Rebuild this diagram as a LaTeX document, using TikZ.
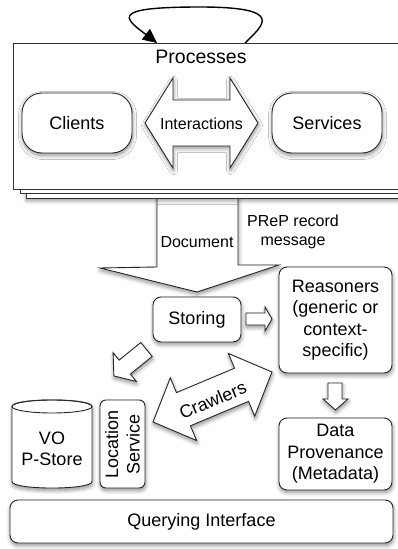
\documentclass[tikz,border=0pt]{standalone}
\usepackage{fontspec}
\setmainfont{Liberation Sans}
\usetikzlibrary{shadows.blur,arrows.meta}

\tikzset{
  softshadow/.style={blur shadow={shadow xshift=0.5pt,shadow yshift=-2.5pt,
      shadow blur radius=4pt,shadow blur steps=8,shadow opacity=45}},
  outline/.style={draw=black!85,line width=0.9pt,fill=white,softshadow},
  box/.style={outline,rounded corners=8pt,align=center,inner sep=0pt,
      font=\fontsize{18}{21.5}\selectfont},
  pill/.style={box,rounded corners=20pt},
  page/.style={draw=black!80,line width=0.9pt,fill=white},
  blockarrow/.style={outline,line join=miter},
  bigtext/.style={font=\fontsize{18}{21.5}\selectfont,inner sep=0pt,align=center},
  smalltext/.style={font=\fontsize{16}{19}\selectfont,inner sep=0pt,align=center},
  loopline/.style={draw=black,line width=1.4pt},
  loophead/.style={fill=black,draw=black,line width=0.6pt,line join=miter},
}

\begin{document}
\begin{tikzpicture}[x=1pt,y=-1pt]
\useasboundingbox (0,0) rectangle (397,549);

% big "Document" arrow leaving the process stack
\draw[blockarrow] (157,185) -- (157,267) -- (100,268) -- (197,292) -- (279,265)
  -- (238,265) -- (238,185) -- cycle;
\node[smalltext] (document) at (197,242) {Document};
\node[smalltext] (prep) at (293,232) {PReP record\\message};

% stack of process sheets (running off the right edge)
\draw[page,softshadow] (26,53) rectangle (412,198);
\draw[page] (20,48) rectangle (408,193.5);
\node[page,minimum width=391pt,minimum height=146pt,inner sep=0pt,anchor=north west]
  (processes) at (13,43) {};
\node[font=\fontsize{19.5}{22}\selectfont,inner sep=0pt] (proclabel) at (201,57) {Processes};

% clients / interactions / services
\node[pill,minimum width=110pt,minimum height=60pt] (clients) at (77,123) {Clients};
\node[pill,minimum width=110pt,minimum height=60pt] (services) at (327,123) {Services};
\draw[blockarrow] (145,123) -- (173,78) -- (173,100) -- (230,100) -- (230,78) -- (258,123)
  -- (230,168) -- (230,146) -- (173,146) -- (173,168) -- cycle;
\node[smalltext] (interactions) at (201.5,124) {Interactions};

% self loop on the process stack, with a solid head at its end
\coordinate (loopstart) at (245,43);
\coordinate (loopbase) at (146,34.5);
\coordinate (loopend) at (156.5,42.5);
\draw[loopline] (loopstart)
  .. controls (262,26) and (288,7) .. (200,7)
  .. controls (112,7) and (122,17) .. (loopbase);
\draw[loophead] (loopend) -- (142.3,39.4) -- (149.9,29.4) -- cycle;

% storing and reasoning
\node[box,minimum width=88pt,minimum height=45pt] (storing) at (197,319.5) {Storing};
\node[box,minimum width=113pt,minimum height=106pt] (reasoners) at (335.5,320)
  {Reasoners\\(generic or\\context-\\specific)};
\node[box,minimum width=113pt,minimum height=72pt] (provenance) at (335.5,454)
  {Data\\Provenance\\(Metadata)};

% storing -> reasoners
\draw[blockarrow] (246,313) -- (265,313) -- (265,307) -- (272,319) -- (265,331)
  -- (265,325) -- (246,325) -- cycle;
% reasoners -> provenance
\draw[blockarrow] (328,383) -- (342,383) -- (342,399) -- (348,399) -- (335.5,410)
  -- (323,399) -- (328,399) -- cycle;

% storing -> store
\begin{scope}[shift={(146.5,349.5)},rotate=219]
  \draw[blockarrow] (0,-9) -- (28,-9) -- (28,-18.5) -- (42,0) -- (28,18.5)
    -- (28,9) -- (0,9) -- cycle;
\end{scope}

% crawlers
\begin{scope}[shift={(212.5,397)},rotate=22.8]
  \draw[blockarrow] (-64.5,0) -- (-31.5,-34) -- (-31.5,-18) -- (31.5,-18) -- (31.5,-34)
    -- (64.5,0) -- (31.5,34) -- (31.5,18) -- (-31.5,18) -- (-31.5,34) -- cycle;
  \node[bigtext,transform shape] (crawlers) at (-1,3) {Crawlers};
\end{scope}

% provenance store cylinder
\draw[outline] (12,406.5) -- (12,481.5) .. controls (12,490.2) and (92,490.2) .. (92,481.5)
  -- (92,406.5) .. controls (92,397.8) and (12,397.8) .. (12,406.5) -- cycle;
\draw[draw=black!85,line width=0.9pt] (52,406.5) ellipse [x radius=40pt,y radius=6.5pt];
\node[bigtext] (pstore) at (52,449) {VO\\P-Store};

\node[box,rounded corners=6pt,minimum width=88pt,minimum height=45pt,rotate=90]
  (location) at (122.5,444) {Location\\Service};

% querying interface
\node[box,minimum width=383pt,minimum height=43pt] (query) at (201.5,521.5)
  {Querying Interface};
\end{tikzpicture}
\end{document}
